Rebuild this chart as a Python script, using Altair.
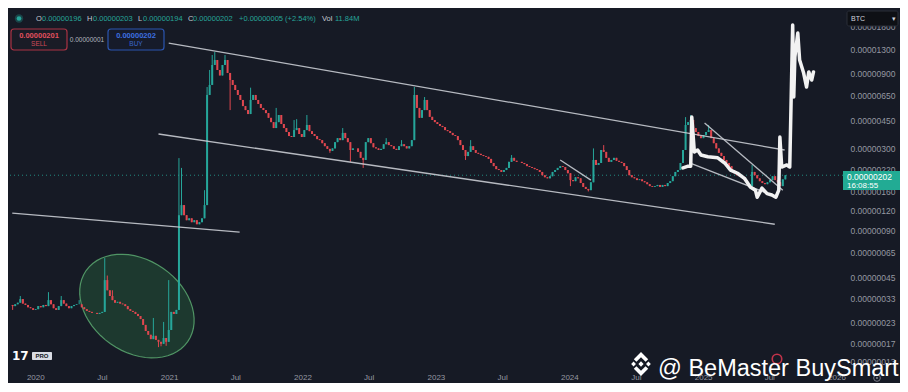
import altair as alt
import pandas as pd
import numpy as np

BG = "#161a25"
UP = "#26a69a"
DOWN = "#e0474f"
AXIS_TXT = "#9598a1"
FONT = "Liberation Sans"
SAT = 1e-8  # values below are in satoshi (0.00000001 BTC)

# ---------------- weekly candles (closes, in sats) ----------------
week_start = "2019-10-31"
first_open_sats = 29.8
close_sats = [
    29.3, 30.1, 30.8, 32.5, 30.4, 29.8, 28.8, 28.4, 27.7, 28.0,
    29.3, 28.8, 29.8, 29.3, 32.0, 30.1, 28.4, 27.7, 29.3, 32.0,
    30.4, 29.3, 28.4, 29.3, 29.8, 30.1, 30.1, 28.8, 28.0, 27.3,
    26.9, 26.5, 26.5, 26.1, 26.5, 26.9, 43.0, 37.0, 34.0, 32.0,
    30.8, 31.2, 30.4, 30.1, 29.3, 28.0, 27.3, 26.9, 26.1, 25.3,
    24.2, 22.2, 20.3, 19.2, 18.0, 18.9, 17.8, 17.3, 16.8, 18.3,
    17.3, 20.6, 26.9, 26.1, 27.7, 112, 130, 112, 104, 107,
    101, 104, 98, 101, 107, 130, 660, 765, 1027, 1105,
    954, 880, 1027, 1105, 913, 823, 765, 710, 660, 613,
    560, 528, 498, 613, 660, 613, 578, 545, 528, 505,
    471, 442, 405, 442, 491, 430, 405, 382, 360, 355,
    393, 405, 371, 355, 393, 424, 387, 371, 360, 344,
    339, 324, 310, 298, 289, 300, 329, 349, 339, 377,
    349, 329, 293, 300, 300, 285, 261, 253, 329, 349,
    324, 305, 300, 293, 298, 319, 329, 315, 310, 298,
    293, 310, 319, 310, 300, 310, 339, 660, 545, 471,
    528, 613, 528, 478, 456, 442, 430, 418, 411, 393,
    387, 377, 365, 360, 339, 315, 293, 268, 285, 310,
    293, 281, 277, 272, 268, 265, 257, 242, 231, 221,
    218, 212, 218, 225, 246, 261, 250, 246, 246, 242,
    238, 231, 228, 225, 221, 218, 212, 202, 196, 193,
    199, 212, 218, 225, 231, 228, 218, 208, 188, 185,
    196, 193, 180, 170, 165, 162, 182, 253, 235, 242,
    293, 285, 261, 246, 253, 261, 250, 246, 242, 231,
    218, 202, 196, 193, 188, 190, 185, 182, 177, 172,
    170, 172, 175, 170, 175, 172, 180, 185, 199, 212,
    218, 242, 293, 424, 442, 456, 405, 382, 360, 349,
    365, 382, 393, 349, 324, 300, 281, 268, 253, 242,
    231, 218, 208, 202, 199, 196, 188, 177, 172, 212,
    202, 193, 185, 180, 177, 182, 188, 199, 188, 182,
    172, 190, 202,
]
wick_high_sats = {3: 34, 14: 36, 19: 34, 26: 32, 36: 59.5, 37: 46, 39: 37, 55: 24.6,
                  59: 23.2, 61: 43, 65: 260, 66: 225, 75: 162, 76: 742, 77: 954,
                  78: 1190, 79: 1243, 80: 1100, 83: 1190, 93: 735, 103: 545, 110: 456,
                  111: 462, 115: 491, 129: 405, 146: 349, 152: 339, 157: 742, 161: 640,
                  179: 339, 195: 272, 227: 300, 231: 315, 263: 476, 265: 491, 272: 424,
                  289: 235}
wick_low_sats = {0: 27.7, 57: 16.0, 58: 16.2, 60: 16.3, 62: 22.2, 85: 528, 124: 281,
                 132: 246, 137: 225, 177: 253, 218: 172, 225: 159}

# ---------------- hand-drawn white path (projection) ----------------
brush_dates = ["2024-11-07", "2024-11-21", "2024-11-28", "2024-12-01", "2024-12-08",
               "2024-12-17", "2024-12-26", "2025-01-14", "2025-02-10", "2025-03-01",
               "2025-03-17", "2025-04-05", "2025-04-24", "2025-05-10", "2025-05-24",
               "2025-05-29", "2025-06-11", "2025-06-25", "2025-07-08", "2025-07-19",
               "2025-07-27", "2025-07-30", "2025-08-04", "2025-08-18", "2025-08-26",
               "2025-09-03", "2025-09-06", "2025-09-09", "2025-09-17", "2025-09-22",
               "2025-10-03", "2025-10-11", "2025-10-17", "2025-10-25", "2025-10-30"]
brush_sats = [225, 231, 231, 476, 285, 293, 272, 265, 261, 242,
              218, 208, 193, 170, 162, 146, 167, 154, 151, 146,
              162, 355, 228, 235, 228, 1852, 640, 1156, 1646, 1105,
              912, 742, 927, 823, 927]

# ---------------- trend lines ----------------
line_start_dates = ["2020-12-31", "2020-12-03", "2019-10-30", "2023-12-07", "2025-01-05", "2024-11-25"]
line_end_dates = ["2025-08-12", "2025-07-16", "2021-07-13", "2024-02-29", "2025-08-07", "2025-07-10"]
line_start_sats = [1420, 371, 115.5, 253, 436, 242]
line_end_sats = [293, 98, 87.2, 188, 162, 150]

ellipse_center_date = ["2020-10-05"]
ellipse_center_sats = [29.3]

price_ticks_sats = [1800, 1300, 900, 650, 450, 300, 220, 160, 120, 90, 65, 45, 33, 23, 17, 13]
last_price_sats = 202

# ---------------- data frames ----------------
dates = pd.date_range(week_start, periods=len(close_sats), freq="7D")
opens = [first_open_sats] + close_sats[:-1]
highs = [max(o, c, wick_high_sats.get(i, 0)) for i, (o, c) in enumerate(zip(opens, close_sats))]
lows = [min(o, c, wick_low_sats.get(i, 1e9)) for i, (o, c) in enumerate(zip(opens, close_sats))]
candles = pd.DataFrame({
    "date": dates,
    "open": np.array(opens) * SAT,
    "close": np.array(close_sats) * SAT,
    "high": np.array(highs) * SAT,
    "low": np.array(lows) * SAT,
})
candles["dir"] = np.where(candles["close"] >= candles["open"], "up", "down")

brush = pd.DataFrame({"date": pd.to_datetime(brush_dates), "price": np.array(brush_sats) * SAT,
                      "idx": range(len(brush_sats))})
lines = pd.DataFrame({"start": pd.to_datetime(line_start_dates), "end": pd.to_datetime(line_end_dates),
                      "p1": np.array(line_start_sats) * SAT, "p2": np.array(line_end_sats) * SAT})
ell = pd.DataFrame({"date": pd.to_datetime(ellipse_center_date), "price": np.array(ellipse_center_sats) * SAT})
nowp = pd.DataFrame({"price": [last_price_sats * SAT]})
dummy = pd.DataFrame({"k": [0]})

# ---------------- scales / axes ----------------
xs = alt.Scale(domain=[alt.DateTime(year=2019, month=11, date=1), alt.DateTime(year=2026, month=1, date=5)], nice=False)
ys = alt.Scale(type="log", domain=[12.29 * SAT, 2311 * SAT], nice=False, zero=False)

xaxis = alt.Axis(
    values=[alt.DateTime(year=y, month=m, date=1) for y in range(2020, 2027) for m in (1, 7) if not (y == 2026 and m == 7)],
    labelExpr="month(datum.value) == 0 ? timeFormat(datum.value, '%Y') : 'Jul'",
    title=None, ticks=False, domain=False, grid=False, labelColor=AXIS_TXT, labelFontSize=8,
    labelPadding=8, labelOverlap=False, labelFlush=False, labelFont=FONT)
yaxis = alt.Axis(
    orient="right", values=[v * SAT for v in price_ticks_sats], format=".8f", title=None,
    ticks=False, domain=False, grid=False, labelAlign="left", labelBaseline="middle",
    labelPadding=7, labelOverlap=False, labelFlush=False, labelFontSize=8.5,
    labelColor=AXIS_TXT, labelFont=FONT)

# ellipse shape (unit = major semi-axis)
b_ratio, th = 46 / 62, np.radians(35)
pts = []
for k in range(60):
    t = 2 * np.pi * k / 60
    px = np.cos(t) * np.cos(th) - b_ratio * np.sin(t) * np.sin(th)
    py = np.cos(t) * np.sin(th) + b_ratio * np.sin(t) * np.cos(th)
    pts.append(f"{px:.4f},{py:.4f}")
ellipse_path = "M" + " L".join(pts) + " Z"

X = lambda f: alt.X(f, scale=xs, axis=xaxis, title=None)
Y = lambda f: alt.Y(f, scale=ys, axis=yaxis, title=None)

layers = []
layers.append(alt.Chart(ell).mark_point(shape=ellipse_path, size=(2 * 62) ** 2, filled=True,
                                         fill="#24573a", fillOpacity=0.5, stroke="#5aa870",
                                         strokeWidth=1.2, strokeOpacity=0.85).encode(
    x=X("date:T"), y=Y("price:Q")))
layers.append(alt.Chart(nowp).mark_rule(color=UP, strokeDash=[1, 3], strokeWidth=1, opacity=0.8).encode(
    y=Y("price:Q")))

color = alt.Color("dir:N", scale=alt.Scale(domain=["up", "down"], range=[UP, DOWN]), legend=None)
layers.append(alt.Chart(candles).mark_rule(strokeWidth=1).encode(
    x=X("date:T"), y=Y("low:Q"), y2="high:Q", color=color))
layers.append(alt.Chart(candles).mark_bar(size=2.0).encode(
    x=X("date:T"), y=Y("open:Q"), y2="close:Q", color=color))

layers.append(alt.Chart(lines).mark_rule(color="#c9ccd3", strokeWidth=1.3, opacity=0.9).encode(
    x=X("start:T"), x2="end:T", y=Y("p1:Q"), y2="p2:Q"))

layers.append(alt.Chart(brush).mark_line(color="#f2f2f2", strokeWidth=3.5, strokeJoin="round",
                                          strokeCap="round").encode(
    x=X("date:T"), y=Y("price:Q"), order="idx:Q"))


def txt(s, x, y, color, size, weight="normal", align="left", baseline="middle", font=FONT):
    return alt.Chart(dummy).mark_text(text=s, color=color, fontSize=size, fontWeight=weight,
                                      align=align, baseline=baseline, font=font).encode(
        x=alt.value(x), y=alt.value(y))


def box(x, x2, y, y2, fill, stroke=None, r=0, sw=1.0):
    kw = dict(fill=fill, cornerRadius=r)
    if stroke:
        kw.update(stroke=stroke, strokeWidth=sw)
    return alt.Chart(dummy).mark_rect(**kw).encode(
        x=alt.value(x), x2=alt.value(x2), y=alt.value(y), y2=alt.value(y2))


def sym(shape, x, y, size, fill=None, stroke=None, sw=1.0, opacity=1.0):
    kw = dict(shape=shape, size=size, opacity=opacity)
    if fill:
        kw.update(filled=True, fill=fill)
    else:
        kw.update(filled=False)
    if stroke:
        kw.update(stroke=stroke, strokeWidth=sw)
    return alt.Chart(dummy).mark_point(**kw).encode(x=alt.value(x), y=alt.value(y))


# header (OHLC line)
HG = "#26a69a"
HL = "#c5c8d0"
layers += [
    sym("circle", 11, 8.5, 70, fill=HG, opacity=0.3),
    sym("circle", 11, 8.5, 22, fill=HG),
    txt("O", 28, 8.5, HL, 7.5), txt("0.00000196", 34, 8.5, HG, 7.5),
    txt("H", 79, 8.5, HL, 7.5), txt("0.00000203", 85, 8.5, HG, 7.5),
    txt("L", 130, 8.5, HL, 7.5), txt("0.00000194", 135, 8.5, HG, 7.5),
    txt("C", 180, 8.5, HL, 7.5), txt("0.00000202", 185, 8.5, HG, 7.5),
    txt("+0.00000005 (+2.54%)", 231, 8.5, HG, 7.5),
    txt("Vol", 314, 8.5, HL, 7.5), txt("11.84M", 327, 8.5, HG, 7.5),
]
# sell / buy buttons
layers += [
    box(3, 59, 19, 40, "#1a1c26", "#a93344", 3, 1.2),
    txt("0.00000201", 31, 25.5, "#e0505e", 7.5, "bold", "center"),
    txt("SELL", 31, 34, "#d04a58", 6.5, "normal", "center"),
    txt("0.00000001", 79, 29.5, "#b2b5be", 6.5, "normal", "center"),
    box(100, 156, 19, 40, "#161b2a", "#2b55b0", 3, 1.2),
    txt("0.00000202", 128, 25.5, "#3d6fe0", 7.5, "bold", "center"),
    txt("BUY", 128, 34, "#3a66cc", 6.5, "normal", "center"),
]
# BTC selector, last price tag, bottom covers
layers += [
    box(839, 890, 1, 16, "#0e1015", "#2a2e39", 2, 1),
    txt("BTC", 843, 8.5, "#d1d4dc", 7),
    txt("▾", 886, 8.5, "#d1d4dc", 7, "normal", "center"),
    box(835, 892, 161, 180, "#22ab94"),
    txt("0.00000202", 839, 166.5, "#ffffff", 8.5),
    txt("16:08:55", 839, 175.5, "#ffffff", 8),
    box(842, 892, 358, 375, BG),
    sym("circle", 869, 368, 45, stroke="#787b86", sw=1),
    sym("circle", 869, 368, 5, fill="#787b86"),
]
# TradingView logo
layers += [
    txt("17", 4, 346, "#ffffff", 12, "bold", "left", "middle", "DejaVu Sans"),
    box(24, 44, 342, 350, "#d9dce3", None, 1),
    txt("PRO", 34, 346.3, "#131722", 6, "bold", "center"),
]
# watermark
binance_path = ("M0,-0.22 L0.22,0 L0,0.22 L-0.22,0 Z "
                "M-0.62,-0.2 L-0.42,0 L-0.62,0.2 L-0.82,0 Z "
                "M0.62,-0.2 L0.82,0 L0.62,0.2 L0.42,0 Z "
                "M0,-1 L0.6,-0.4 L0.38,-0.18 L0,-0.56 L-0.38,-0.18 L-0.6,-0.4 Z "
                "M0,1 L0.6,0.4 L0.38,0.18 L0,0.56 L-0.38,0.18 L-0.6,0.4 Z")
layers += [
    sym("circle", 769, 349, 90, stroke="#c2334a", sw=1.6),
    sym(binance_path, 633, 354, 576, fill="#ffffff"),
    txt("@ BeMaster BuySmart", 650, 366, "#ffffff", 23.5, "normal", "left", "alphabetic"),
]

chart = alt.layer(*layers).properties(
    width=835, height=355, background=BG,
    padding={"left": 0, "top": 2, "right": 57, "bottom": 18},
    autosize=alt.AutoSizeParams(type="none"),
).configure_view(strokeWidth=0)

chart.save("out.html", embed_options={"renderer": "svg", "actions": False})
